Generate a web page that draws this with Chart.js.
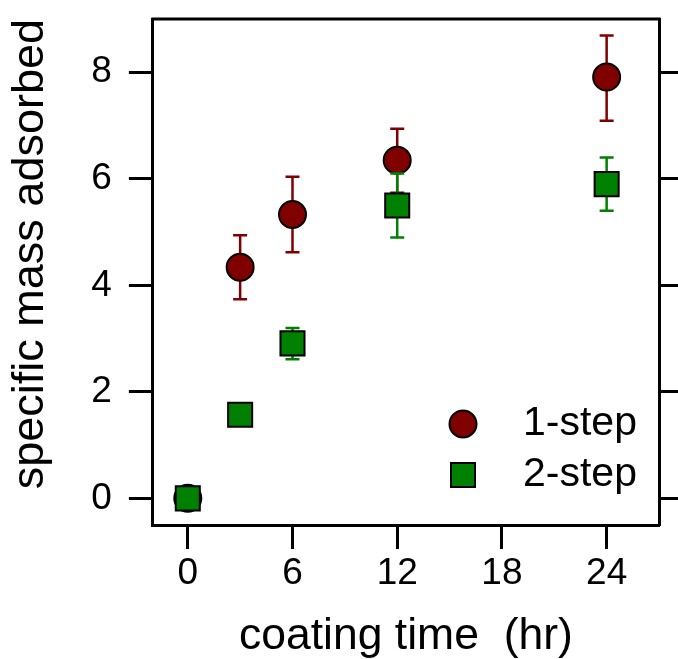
<!DOCTYPE html>
<html>
<head>
<meta charset="utf-8">
<script src="https://cdn.jsdelivr.net/npm/chart.js@4/dist/chart.umd.min.js"></script>
<style>
  html, body { margin: 0; padding: 0; background: #fff; }
  #wrap { width: 678px; height: 659px; }
</style>
</head>
<body>
<div id="wrap"><canvas id="myChart"></canvas></div>
<script>
// coating time (hr)
const times = [0, 3, 6, 12, 24];
// 1-step series and error bar ends
const oneStep = [0, 4.34, 5.33, 6.35, 7.91];
const oneStepLow = [0, 3.74, 4.62, 5.74, 7.09];
const oneStepHigh = [0, 4.94, 6.04, 6.94, 8.69];
// 2-step series and error bar ends
const twoStep = [0, 1.57, 2.91, 5.50, 5.90];
const twoStepLow = [0, 1.37, 2.61, 4.90, 5.40];
const twoStepHigh = [0, 1.77, 3.20, 6.10, 6.40];
// tick labels
const xTicks = [0, 6, 12, 18, 24];
const yTicks = [0, 2, 4, 6, 8];

const RED = '#800000';
const GREEN = '#008000';
const FONT = 'Liberation Sans, Arial, sans-serif';

Chart.defaults.font.family = FONT;
Chart.defaults.font.size = 37;
Chart.defaults.color = '#000';

function pts(xs, ys){
  let out = [];
  for(let i = 0; i < xs.length; i++){
    out.push({x: xs[i], y: ys[i]});
  }
  return out;
}

// error bars drawn just before each dataset's markers
const errorBars = {
  id: 'errorBars',
  beforeDatasetDraw(chart, args){
    const ds = chart.data.datasets[args.index];
    if(!ds.errLow) return;
    const ctx = chart.ctx;
    const xs = chart.scales.x, ys = chart.scales.y;
    ctx.save();
    ctx.strokeStyle = ds.backgroundColor;
    ctx.lineWidth = 2.5;
    for(let i = 0; i < ds.data.length; i++){
      if(ds.errLow[i] === ds.errHigh[i]) continue;
      const px = xs.getPixelForValue(ds.data[i].x);
      const lo = ys.getPixelForValue(ds.errLow[i]);
      const hi = ys.getPixelForValue(ds.errHigh[i]);
      ctx.beginPath();
      ctx.moveTo(px, lo); ctx.lineTo(px, hi);
      ctx.moveTo(px - 7, lo); ctx.lineTo(px + 7, lo);
      ctx.moveTo(px - 7, hi); ctx.lineTo(px + 7, hi);
      ctx.stroke();
    }
    ctx.restore();
  }
};

// top frame line and legend inside the plot
const frameAndLegend = {
  id: 'frameAndLegend',
  afterDraw(chart){
    const ctx = chart.ctx;
    const a = chart.chartArea;
    ctx.save();
    ctx.strokeStyle = '#000';
    ctx.lineWidth = 3;
    ctx.beginPath();
    ctx.moveTo(a.left - 1.5, a.top);
    ctx.lineTo(a.right + 1.5, a.top);
    ctx.stroke();

    const mx = a.right - 196;
    const tx = a.right - 136;
    const items = [
      {label: '1-step', color: RED, shape: 'circle', y: a.bottom - 101},
      {label: '2-step', color: GREEN, shape: 'rect', y: a.bottom - 50}
    ];
    ctx.lineWidth = 2;
    ctx.font = '41px ' + FONT;
    ctx.textBaseline = 'middle';
    ctx.textAlign = 'left';
    items.forEach(it => {
      ctx.fillStyle = it.color;
      ctx.beginPath();
      if(it.shape === 'circle') ctx.arc(mx, it.y, 13.5, 0, Math.PI * 2);
      else ctx.rect(mx - 12, it.y - 12, 24, 24);
      ctx.fill();
      ctx.stroke();
      ctx.fillStyle = '#000';
      ctx.fillText(it.label, tx, it.y);
    });
    ctx.restore();
  }
};

function axisGrid(len){
  return {
    display: true,
    drawOnChartArea: false,
    drawTicks: true,
    tickLength: len,
    tickWidth: 3,
    tickColor: '#000'
  };
}

// no extra room for half tick labels at the axis ends
function noEdgePadding(axis){
  axis.paddingTop = 0;
  axis.paddingBottom = 0;
  axis.paddingLeft = 0;
  axis.paddingRight = 0;
}

let ctx = document.getElementById('myChart').getContext('2d');
let myChart = new Chart(ctx, {
  type: 'scatter',
  data: {
    datasets: [{
        label: '1-step',
        data: pts(times, oneStep),
        errLow: oneStepLow,
        errHigh: oneStepHigh,
        pointStyle: 'circle',
        pointRadius: 13.5,
        pointBorderWidth: 2,
        borderColor: '#000',
        backgroundColor: RED,
        order: 2
      },
      {
        label: '2-step',
        data: pts(times, twoStep),
        errLow: twoStepLow,
        errHigh: twoStepHigh,
        pointStyle: 'rect',
        pointRadius: 17,
        pointBorderWidth: 2,
        borderColor: '#000',
        backgroundColor: GREEN,
        order: 1
      }]
  },
  options: {
    responsive: true,
    maintainAspectRatio: false,
    animation: false,
    events: [],
    layout: { padding: { top: 16.7, right: 0, bottom: 0, left: 0 } },
    plugins: { legend: { display: false }, tooltip: { enabled: false } },
    scales: {
      x: {
        type: 'linear',
        position: 'bottom',
        min: -2,
        max: 27,
        afterBuildTicks: axis => { axis.ticks = xTicks.map(v => ({value: v})); },
        afterFit: noEdgePadding,
        grid: axisGrid(24),
        border: { display: true, color: '#000', width: 3 },
        ticks: { padding: 3, maxRotation: 0 },
        title: {
          display: true,
          text: 'coating time  (hr)',
          font: { size: 44.5, lineHeight: 1 },
          padding: { top: 15.1, bottom: 0 }
        }
      },
      y: {
        type: 'linear',
        position: 'left',
        min: -0.5,
        max: 9,
        afterBuildTicks: axis => { axis.ticks = yTicks.map(v => ({value: v})); },
        afterFit: noEdgePadding,
        grid: axisGrid(24),
        border: { display: true, color: '#000', width: 3 },
        ticks: { padding: 17 },
        title: {
          display: true,
          text: 'specific mass adsorbed',
          align: 'end',
          font: { size: 45, lineHeight: 1 },
          padding: { top: 8.5, bottom: 20.8 }
        }
      },
      y2: {
        type: 'linear',
        position: 'right',
        min: -0.5,
        max: 9,
        afterBuildTicks: axis => { axis.ticks = yTicks.map(v => ({value: v})); },
        afterFit: noEdgePadding,
        grid: axisGrid(19),
        border: { display: true, color: '#000', width: 3 },
        ticks: { padding: 0, callback: () => '' }
      }
    }
  },
  plugins: [errorBars, frameAndLegend]
});
</script>
</body>
</html>
